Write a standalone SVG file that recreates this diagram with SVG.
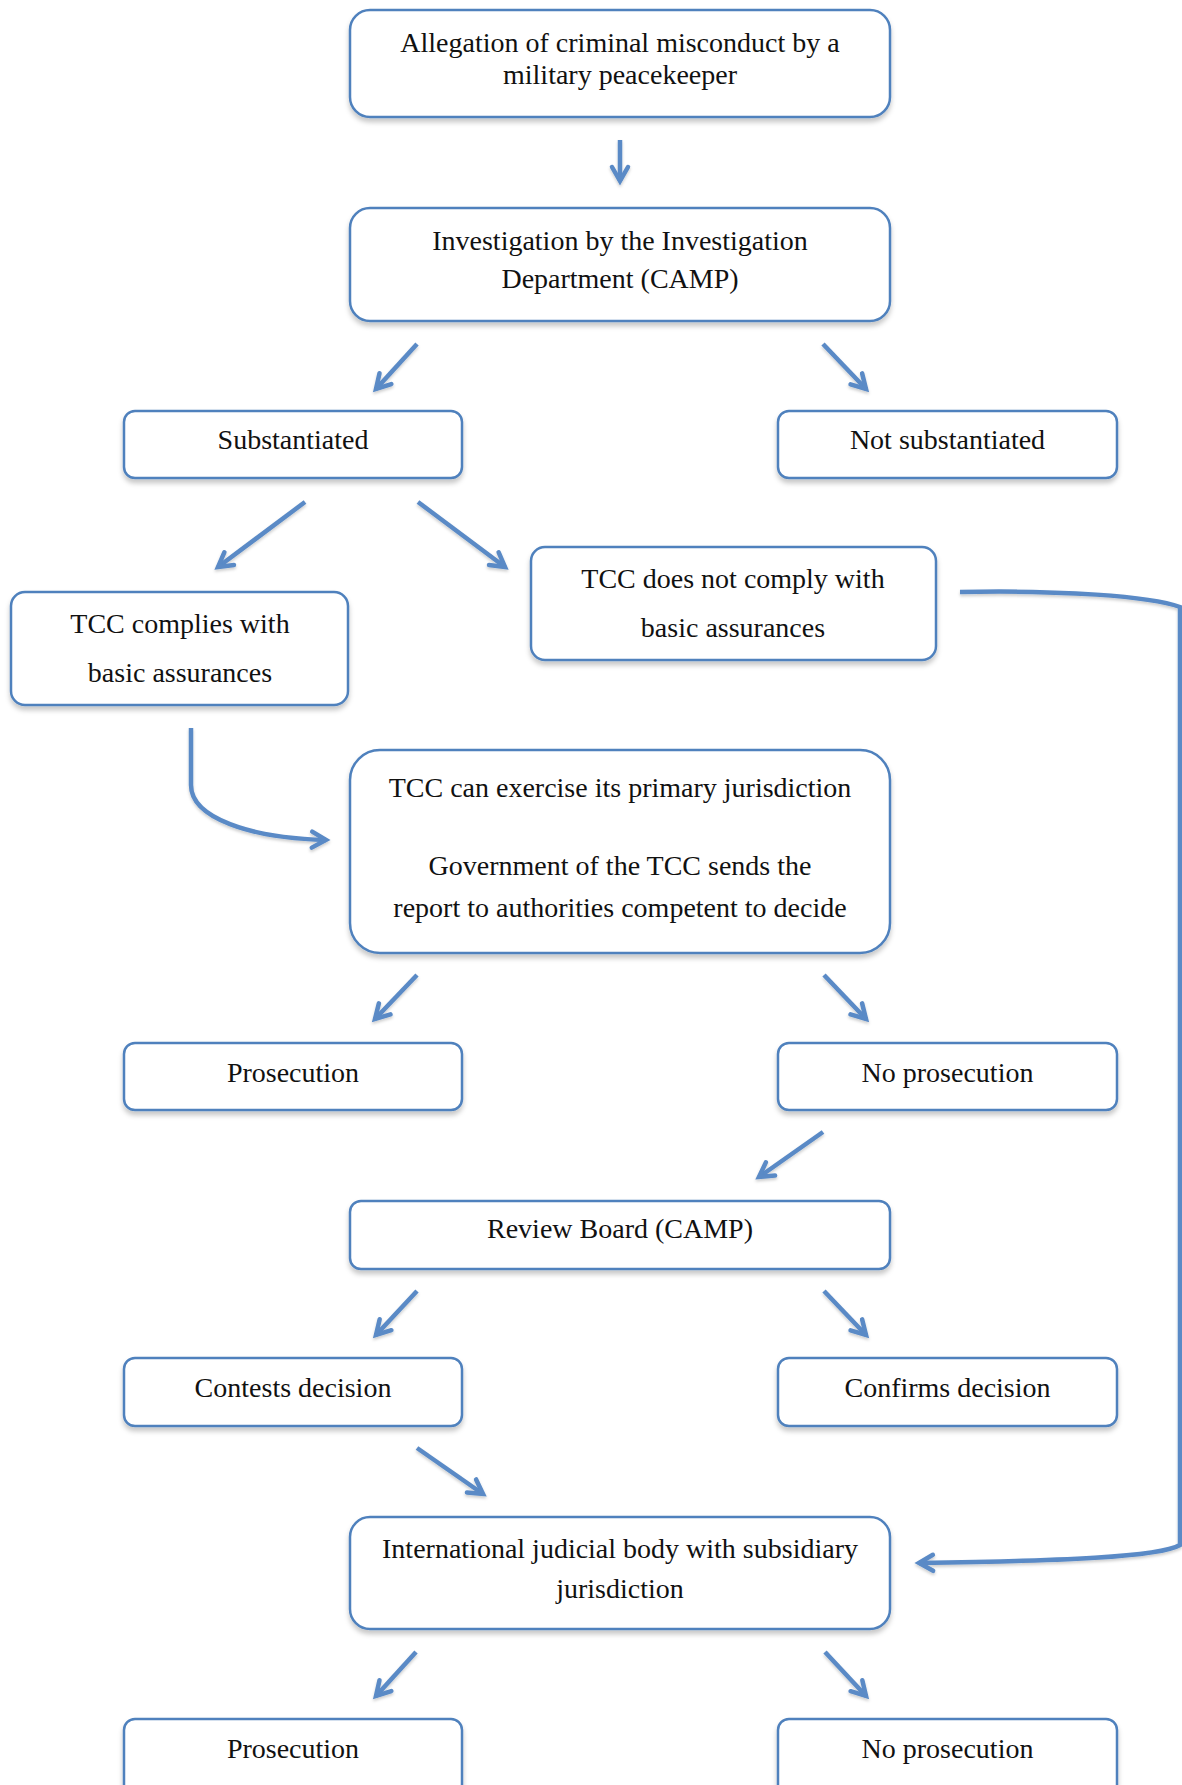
<svg xmlns="http://www.w3.org/2000/svg" width="1182" height="1785" viewBox="0 0 1182 1785">
<style>
.box{fill:#fff;stroke:#4f81bd;stroke-width:2.5;filter:url(#sh)}
.t{font-family:"Liberation Serif","Times New Roman",serif;font-size:28px;fill:#111;text-anchor:middle}
.c{fill:none;stroke:#5a8ac6;stroke-width:4.5;stroke-linecap:butt;marker-end:url(#ah)}
</style>
<defs>
<filter id="sh" x="-5%" y="-10%" width="110%" height="130%">
<feDropShadow dx="0" dy="4" stdDeviation="2.5" flood-color="#000" flood-opacity="0.22"/>
</filter>
<filter id="sh2" filterUnits="userSpaceOnUse" x="0" y="0" width="1182" height="1785">
<feDropShadow dx="0" dy="2" stdDeviation="1.5" flood-color="#000" flood-opacity="0.2"/>
</filter>
<marker id="ah" markerUnits="userSpaceOnUse" viewBox="0 0 24 24" refX="19" refY="12" markerWidth="24" markerHeight="24" orient="auto">
<path d="M5,4 L19,12 L5,20" fill="none" stroke="#5a8ac6" stroke-width="4.5" stroke-linejoin="miter" stroke-linecap="round"/>
</marker>
</defs>
<g id="connectors" filter="url(#sh2)">
<path class="c" d="M620,140 L620,181"/>
<path class="c" d="M417,344 L376,389"/>
<path class="c" d="M823,344 L866,389"/>
<path class="c" d="M305,502 L218,567"/>
<path class="c" d="M418,502 L505,567"/>
<path class="c" d="M191,728 L191,785 C191,818 250,838 326,840"/>
<path class="c" d="M960,592 C1060,590 1150,596 1180,607 L1180,1545 C1160,1557 1060,1561 919,1563"/>
<path class="c" d="M417,975 L375,1019"/>
<path class="c" d="M824,975 L866,1019"/>
<path class="c" d="M823,1132 L759,1177"/>
<path class="c" d="M417,1291 L376,1335"/>
<path class="c" d="M824,1291 L866,1335"/>
<path class="c" d="M417,1448 L483,1494"/>
<path class="c" d="M416,1652 L376,1696"/>
<path class="c" d="M825,1652 L866,1696"/>
</g>
<g id="n1"><rect class="box" x="350" y="10" width="540" height="107" rx="20"/>
<text class="t" x="620" y="52">Allegation of criminal misconduct by a</text>
<text class="t" x="620" y="84">military peacekeeper</text></g>
<g id="n2"><rect class="box" x="350" y="208" width="540" height="113" rx="20"/>
<text class="t" x="620" y="250">Investigation by the Investigation</text>
<text class="t" x="620" y="288">Department (CAMP)</text></g>
<g id="n3"><rect class="box" x="124" y="411" width="338" height="67" rx="11"/>
<text class="t" x="293" y="449">Substantiated</text></g>
<g id="n4"><rect class="box" x="778" y="411" width="339" height="67" rx="11"/>
<text class="t" x="947.5" y="449">Not substantiated</text></g>
<g id="n5"><rect class="box" x="11" y="592" width="337" height="113" rx="14"/>
<text class="t" x="180" y="633">TCC complies with</text>
<text class="t" x="180" y="682">basic assurances</text></g>
<g id="n6"><rect class="box" x="531" y="547" width="405" height="113" rx="14"/>
<text class="t" x="733" y="588">TCC does not comply with</text>
<text class="t" x="733" y="637">basic assurances</text></g>
<g id="n7"><rect class="box" x="350" y="750" width="540" height="203" rx="30"/>
<text class="t" x="620" y="797">TCC can exercise its primary jurisdiction</text>
<text class="t" x="620" y="875">Government of the TCC sends the</text>
<text class="t" x="620" y="917">report to authorities competent to decide</text></g>
<g id="n8"><rect class="box" x="124" y="1043" width="338" height="67" rx="11"/>
<text class="t" x="293" y="1082">Prosecution</text></g>
<g id="n9"><rect class="box" x="778" y="1043" width="339" height="67" rx="11"/>
<text class="t" x="947.5" y="1082">No prosecution</text></g>
<g id="n10"><rect class="box" x="350" y="1201" width="540" height="68" rx="11"/>
<text class="t" x="620" y="1238">Review Board (CAMP)</text></g>
<g id="n11"><rect class="box" x="124" y="1358" width="338" height="68" rx="11"/>
<text class="t" x="293" y="1397">Contests decision</text></g>
<g id="n12"><rect class="box" x="778" y="1358" width="339" height="68" rx="11"/>
<text class="t" x="947.5" y="1397">Confirms decision</text></g>
<g id="n13"><rect class="box" x="350" y="1517" width="540" height="112" rx="20"/>
<text class="t" x="620" y="1558">International judicial body with subsidiary</text>
<text class="t" x="620" y="1598">jurisdiction</text></g>
<g id="n14"><rect class="box" x="124" y="1719" width="338" height="80" rx="11"/>
<text class="t" x="293" y="1758">Prosecution</text></g>
<g id="n15"><rect class="box" x="778" y="1719" width="339" height="80" rx="11"/>
<text class="t" x="947.5" y="1758">No prosecution</text></g>
</svg>
